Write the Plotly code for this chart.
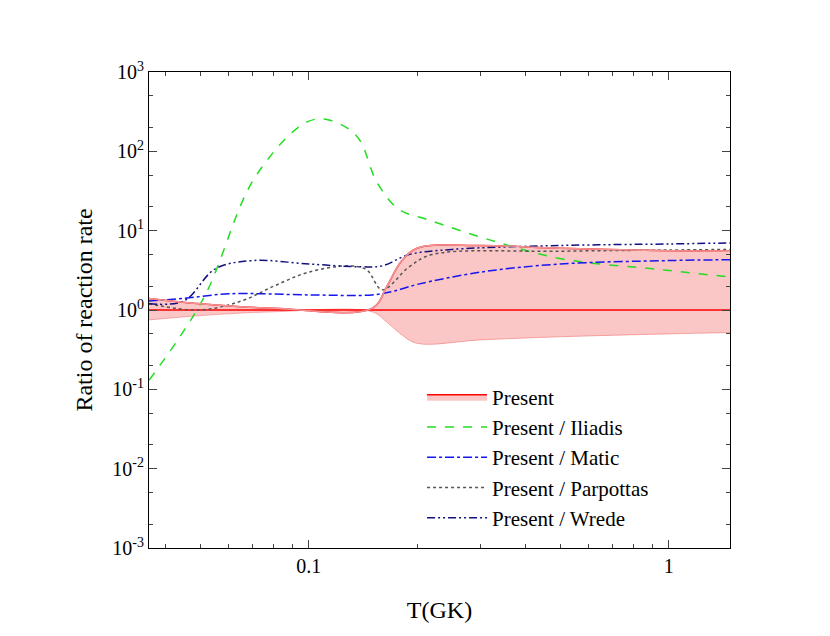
import numpy as np
import plotly.graph_objects as go

# temperatures (GK) and ratios
t_band = [0.036, 0.05, 0.08, 0.15, 0.165, 0.18, 0.2, 0.3, 0.5, 1.0, 1.48]
band_lo = [0.75, 0.85, 0.95, 0.95, 0.7, 0.5, 0.38, 0.42, 0.46, 0.5, 0.52]
band_hi = [1.4, 1.2, 1.05, 1.05, 2.0, 4.0, 6.0, 6.5, 6.0, 5.6, 5.5]

t_iliadis = [0.036, 0.051, 0.0707, 0.098, 0.113, 0.136, 0.155, 0.178, 0.215, 0.32, 0.505, 0.97, 1.48]
r_iliadis = [0.13, 1.4, 46, 230, 250, 155, 40, 18.6, 13.7, 7.6, 4.4, 3.2, 2.6]

t_matic = [0.036, 0.045, 0.06, 0.1, 0.15, 0.17, 0.2, 0.3, 0.5, 1.0, 1.48]
r_matic = [1.3, 1.4, 1.6, 1.55, 1.55, 1.7, 2.1, 3.0, 3.8, 4.2, 4.3]

t_parp = [0.036, 0.05, 0.065, 0.08, 0.1, 0.13, 0.145, 0.16, 0.19, 0.22, 0.5, 1.0, 1.48]
r_parp = [1.2, 1.0, 1.3, 2.0, 3.0, 3.6, 3.2, 1.8, 3.5, 5.0, 5.5, 5.7, 5.8]

t_wrede = [0.036, 0.045, 0.055, 0.07, 0.1, 0.14, 0.16, 0.19, 0.25, 0.5, 1.0, 1.48]
r_wrede = [1.2, 1.3, 3.3, 4.2, 3.8, 3.5, 3.6, 5.0, 5.8, 6.5, 6.8, 7.0]

font = dict(family="Liberation Serif, Times New Roman, serif", size=20, color="black")

fig = go.Figure()
fig.add_trace(go.Scatter(x=t_band, y=band_lo, mode="lines", line=dict(color="rgba(240,120,120,0.6)", width=1,
                         shape="spline"), showlegend=False, hoverinfo="skip"))
fig.add_trace(go.Scatter(x=t_band, y=band_hi, mode="lines", fill="tonexty", fillcolor="rgba(248,160,160,0.6)",
                         line=dict(color="red", width=1.5, shape="spline"), name="Present"))
fig.add_trace(go.Scatter(x=[0.036, 1.48], y=[1, 1], mode="lines", line=dict(color="red", width=1.5),
                         showlegend=False))
fig.add_trace(go.Scatter(x=t_iliadis, y=r_iliadis, mode="lines", name="Present / Iliadis",
                         line=dict(color="#22dd22", dash="dash", width=1.5, shape="spline")))
fig.add_trace(go.Scatter(x=t_matic, y=r_matic, mode="lines", name="Present / Matic",
                         line=dict(color="#1515ee", dash="dashdot", width=1.5, shape="spline")))
fig.add_trace(go.Scatter(x=t_parp, y=r_parp, mode="lines", name="Present / Parpottas",
                         line=dict(color="#555555", dash="dot", width=1.5, shape="spline")))
fig.add_trace(go.Scatter(x=t_wrede, y=r_wrede, mode="lines", name="Present / Wrede",
                         line=dict(color="#101080", dash="8px,3px,2px,3px,2px,3px", width=1.5, shape="spline")))

# re-draw the band edge in pale pink over the red legend line
fig.add_trace(go.Scatter(x=t_band, y=band_hi, mode="lines", showlegend=False, hoverinfo="skip",
                         line=dict(color="rgba(240,150,150,1)", width=1.5, shape="spline")))

yvals = [10.0 ** k for k in range(-3, 4)]
ytext = ["10<sup>%d</sup>" % k for k in range(-3, 4)]

fig.update_layout(
    width=830, height=636, paper_bgcolor="white", plot_bgcolor="white",
    margin=dict(l=141, r=108, t=64, b=96), font=font,
    xaxis=dict(type="log", range=[np.log10(0.036), np.log10(1.48)], tickvals=[0.1, 1], ticktext=["0.1", "1"],
               ticks="inside", ticklen=8, showline=True, linecolor="black", mirror="ticks", showgrid=False,
               minor=dict(ticks="inside", ticklen=4, tickvals=[0.04, 0.05, 0.06, 0.07, 0.08, 0.09, 0.2, 0.3,
                                                               0.4, 0.5, 0.6, 0.7, 0.8, 0.9]),
               title=dict(text="T(GK)", standoff=25), zeroline=False),
    yaxis=dict(type="log", range=[-3, 3], tickvals=yvals, ticktext=ytext, ticks="inside", ticklen=8,
               showline=True, linecolor="black", mirror="ticks", showgrid=False,
               minor=dict(ticks="inside", ticklen=4, showgrid=False),
               title=dict(text="Ratio of reaction rate", standoff=12), zeroline=False),
    legend=dict(x=0.47, y=0.02, xanchor="left", yanchor="bottom", bgcolor="rgba(0,0,0,0)",
                font=dict(size=21), traceorder="normal", itemwidth=60, tracegroupgap=0),
)

fig.write_html("out.html")
